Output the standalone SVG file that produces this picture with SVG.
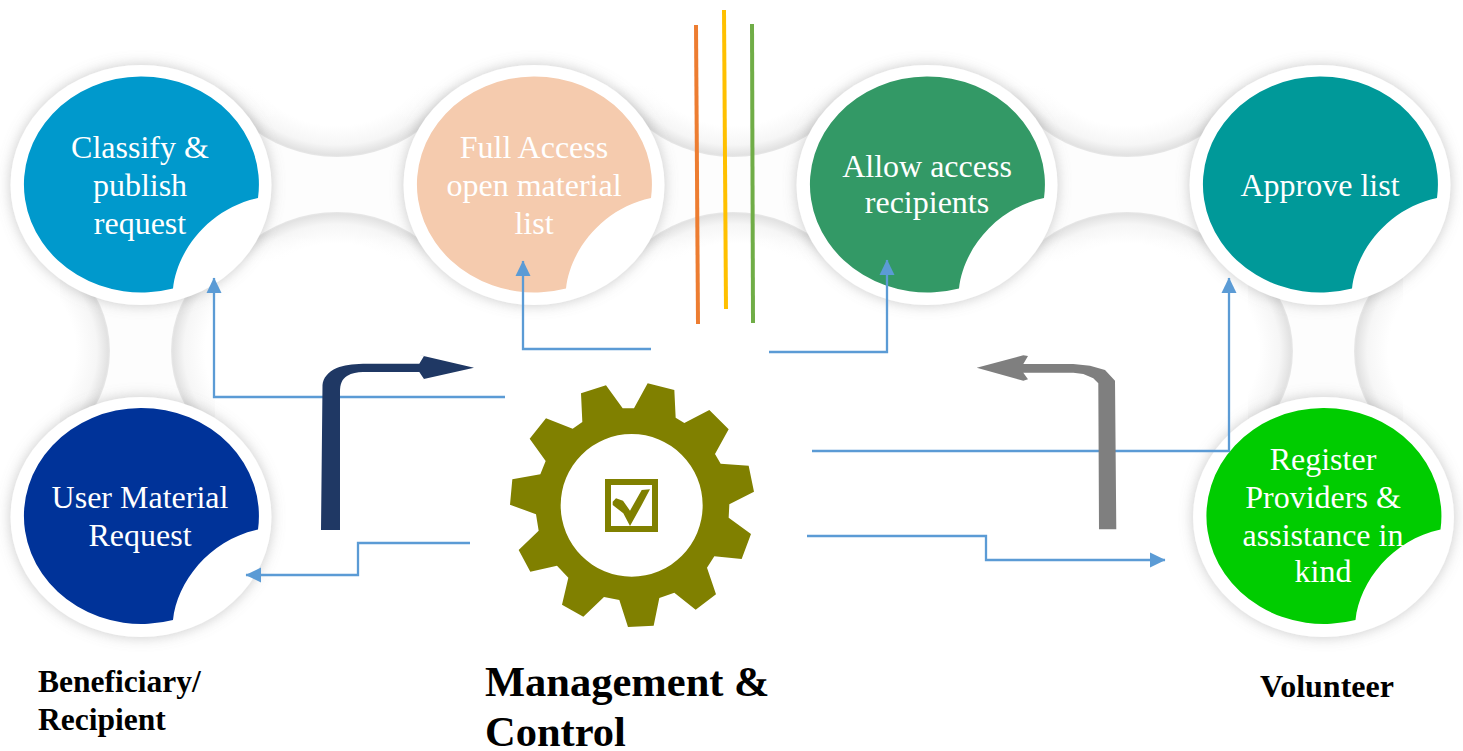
<svg xmlns="http://www.w3.org/2000/svg" width="1463" height="751" viewBox="0 0 1463 751">
<style>
.lbl{font-family:"Liberation Serif","Times New Roman",serif;font-size:32px;fill:#fff;text-anchor:middle}
.cap{font-family:"Liberation Serif","Times New Roman",serif;font-weight:bold;fill:#000}
.wire{fill:none;stroke:#5B9BD5;stroke-width:2.3}
.hole{fill:url(#holeGrad)}
.ring{fill:#fff;filter:url(#discShadow)}
</style>
<defs>
<radialGradient id="holeGrad" cx="0.5" cy="0.5" r="0.5">
<stop offset="0" stop-color="#fff"/><stop offset="0.74" stop-color="#fff"/><stop offset="0.9" stop-color="#f6f6f6"/><stop offset="0.985" stop-color="#e2e2e2"/><stop offset="1" stop-color="#e8e8e8"/>
</radialGradient>
<linearGradient id="fadeTop" x1="0" y1="0" x2="0" y2="1"><stop offset="0" stop-color="#fff"/><stop offset="1" stop-color="#fff" stop-opacity="0"/></linearGradient>
<linearGradient id="fadeBottom" x1="0" y1="0" x2="0" y2="1"><stop offset="0" stop-color="#fff" stop-opacity="0"/><stop offset="1" stop-color="#fff"/></linearGradient>
<filter id="discShadow" x="-20%" y="-20%" width="140%" height="140%"><feDropShadow dx="0" dy="0" stdDeviation="7" flood-color="#888" flood-opacity="0.45"/></filter>
<clipPath id="leftInner"><rect x="160" y="262" width="55" height="170"/></clipPath>
<clipPath id="rightInner"><rect x="1248" y="262" width="55" height="170"/></clipPath>
<clipPath id="leftOuter"><rect x="60" y="262" width="55" height="170"/></clipPath>
<clipPath id="rightOuter"><rect x="1348" y="262" width="55" height="170"/></clipPath>
<marker id="tip" markerUnits="userSpaceOnUse" markerWidth="16" markerHeight="16" refX="15" refY="8" orient="auto"><path d="M0,0.5L15.5,8L0,15.5Z" fill="#5B9BD5"/></marker>
<path id="blob" d="M117,13A117.5,108 0 1 0 32,103.5C36,65 69,23 117,13Z"/>
<ellipse id="disc" rx="130.5" ry="120"/>
</defs>
<rect width="1463" height="751" fill="#fff"/>
<g id="backdrop">
<rect x="60" y="70" width="1345" height="360" fill="#fdfdfd"/>
<ellipse class="hole" cx="337" cy="37" rx="131" ry="120"/>
<ellipse class="hole" cx="733" cy="37" rx="131" ry="120"/>
<ellipse class="hole" cx="1127" cy="37" rx="131" ry="120"/>
<ellipse class="hole" cx="337" cy="332" rx="131" ry="120"/>
<ellipse class="hole" cx="733" cy="332" rx="131" ry="120"/>
<ellipse class="hole" cx="1127" cy="332" rx="131" ry="120"/>
<rect x="0" y="0" width="1463" height="85" fill="#fff"/>
<rect x="0" y="85" width="1463" height="35" fill="url(#fadeTop)"/>
<rect x="215" y="235" width="1033" height="27" fill="url(#fadeBottom)"/>
<rect x="215" y="262" width="1033" height="489" fill="#fff"/>
<ellipse class="hole" cx="302" cy="351" rx="131" ry="120" clip-path="url(#leftInner)"/>
<ellipse class="hole" cx="1162" cy="351" rx="131" ry="120" clip-path="url(#rightInner)"/>
<ellipse class="hole" cx="-21" cy="351" rx="131" ry="120" clip-path="url(#leftOuter)"/>
<ellipse class="hole" cx="1485" cy="351" rx="131" ry="120" clip-path="url(#rightOuter)"/>
<rect x="0" y="262" width="60" height="489" fill="#fff"/>
<rect x="1403" y="262" width="60" height="489" fill="#fff"/>
</g>
<g id="node-classify">
<use href="#disc" class="ring" x="141" y="185"/>
<use href="#blob" x="141" y="185" fill="#0099CC"/>
<text class="lbl" x="140" y="158">Classify &amp;</text><text class="lbl" x="140" y="196">publish</text><text class="lbl" x="140" y="234">request</text>
</g>
<g id="node-full-access">
<use href="#disc" class="ring" x="534" y="185"/>
<use href="#blob" x="534" y="185" fill="#F5CBAE"/>
<text class="lbl" x="534" y="158">Full Access</text><text class="lbl" x="534" y="196">open material</text><text class="lbl" x="534" y="234">list</text>
</g>
<g id="node-allow">
<use href="#disc" class="ring" x="927" y="185"/>
<use href="#blob" x="927" y="185" fill="#339966"/>
<text class="lbl" x="927" y="177">Allow access</text><text class="lbl" x="927" y="213">recipients</text>
</g>
<g id="node-approve">
<use href="#disc" class="ring" x="1320" y="185"/>
<use href="#blob" x="1320" y="185" fill="#009999"/>
<text class="lbl" x="1320" y="196">Approve list</text>
</g>
<g id="node-request">
<use href="#disc" class="ring" x="141" y="517"/>
<use href="#blob" x="141" y="516.5" fill="#003399"/>
<text class="lbl" x="140" y="508">User Material</text><text class="lbl" x="140" y="546">Request</text>
</g>
<g id="node-register">
<use href="#disc" class="ring" x="1323.5" y="517"/>
<use href="#blob" x="1323.5" y="516.5" fill="#00CC00"/>
<text class="lbl" x="1323" y="470">Register</text><text class="lbl" x="1323" y="508">Providers &amp;</text><text class="lbl" x="1323" y="546">assistance in</text><text class="lbl" x="1323" y="582">kind</text>
</g>
<g id="bars" fill="none" stroke-width="4">
<path d="M696,25L698,324" stroke="#ED7D31"/>
<path d="M724,10L726,309" stroke="#FFC000"/>
<path d="M752,24L753,323" stroke="#70AD47"/>
</g>
<g id="node-gear">
<path fill="#808000" fill-rule="evenodd" transform="translate(480 360) scale(.33333)" d="M303,100L378,76L428,145L462,145L503,70L583,90L587,173L613,189L688,150L746,208L705,282L722,311L806,317L822,395L748,433L746,473L813,522L785,597L703,589L681,623L708,703L647,749L583,698L538,714L521,797L444,801L418,720L372,711L310,770L246,734L265,653L231,617L151,635L116,570L176,512L168,463L90,434L97,358L181,343L197,303L149,236L198,175L278,206L307,186Z M668,436A213,214 0 1 0 242,436A213,214 0 1 0 668,436Z M375,357H534V516H375Z M393,375V498H516V375Z"/>
<path fill="#808000" d="M612.7,501.7L616,498.3L623,500.7L630,510.7L641.7,490L650,489.3L641.7,505L630,526L623.3,513.3L612.7,505Z"/>
</g>
<g id="connectors">
<path class="wire" d="M505,397H214V278" marker-end="url(#tip)"/>
<path class="wire" d="M651,349H523V261" marker-end="url(#tip)"/>
<path class="wire" d="M769,352H887V260" marker-end="url(#tip)"/>
<path class="wire" d="M812,451H1229V278" marker-end="url(#tip)"/>
<path class="wire" d="M807,536H986V560H1165" marker-end="url(#tip)"/>
<path class="wire" d="M470,543H358V575H246" marker-end="url(#tip)"/>
<path id="arrow-navy" fill="#1F3864" d="M474,367.7L419.3,355L424,356L419.3,363.7H363C352,364 344,365 336.7,368C328,372 323,378 322.5,385L321,530H340V392C340,384 342,379 347,376C352,373 357,372 363,372H419.3L424,379L419.3,380Z"/>
<path id="arrow-grey" fill="#7F7F7F" d="M976.7,367.7L1023.3,355.3L1028,356L1023.3,364H1073.3L1090,365.7L1105,370L1115,380.7L1116.3,529.3H1099L1098.3,383.3L1093.3,378.3L1083.3,374L1073.3,372.7H1023.3L1028,379.3L1023.3,380.7Z"/>
</g>
<g id="captions">
<text class="cap" x="38" y="692" font-size="31.5">Beneficiary/</text>
<text class="cap" x="38" y="730" font-size="31.5">Recipient</text>
<text class="cap" x="485" y="696" font-size="42.5">Management &amp;</text>
<text class="cap" x="485" y="746" font-size="42.5">Control</text>
<text class="cap" x="1260" y="697" font-size="32">Volunteer</text>
</g>
</svg>
